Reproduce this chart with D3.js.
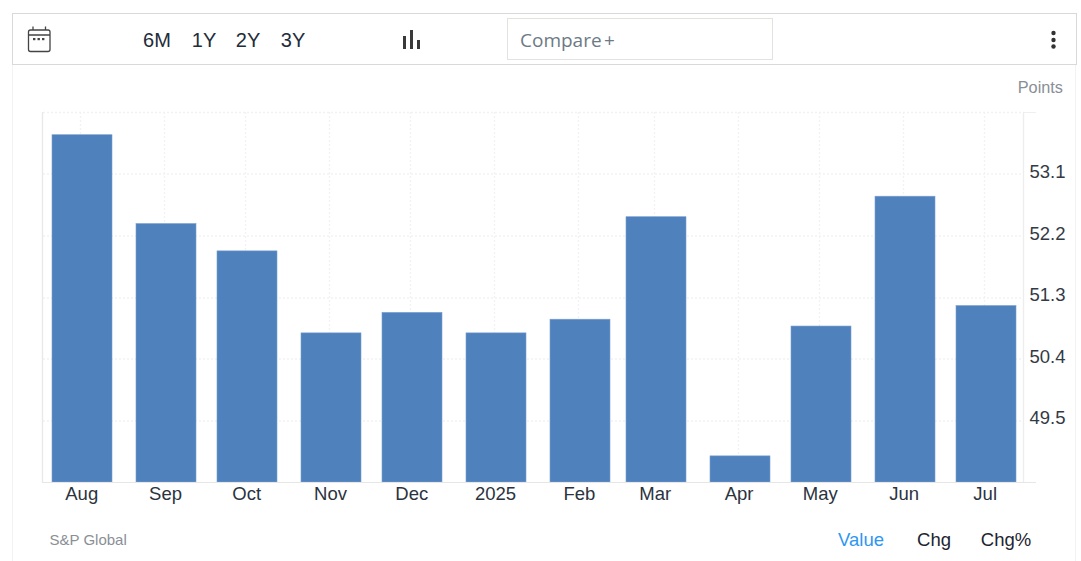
<!DOCTYPE html>
<html><head><meta charset="utf-8">
<script src="https://cdn.jsdelivr.net/npm/d3@7/dist/d3.min.js"></script>
<style>
html,body{margin:0;padding:0;background:#fff;overflow:hidden}
svg{display:block}
text{font-family:"Liberation Sans",Arial,sans-serif}
</style></head><body><svg id="c" width="1081" height="561"></svg>
<script>
const months=["2024-08-01","2024-09-01","2024-10-01","2024-11-01","2024-12-01","2025-01-01","2025-02-01","2025-03-01","2025-04-01","2025-05-01","2025-06-01","2025-07-01"];
const monthLabels=["Aug","Sep","Oct","Nov","Dec","2025","Feb","Mar","Apr","May","Jun","Jul"];
const values=[53.7,52.4,52.0,50.8,51.1,50.8,51.0,52.5,49.0,50.9,52.8,51.2];
const yTicks=[49.5,50.4,51.3,52.2,53.1];
const ranges=["6M","1Y","2Y","3Y"];
const rangeX=[157,204,248,293];
const modes=["Value","Chg","Chg%"];
const modeX=[861,934,1006];

const svg=d3.select("#c");
const dates=months.map(d=>new Date(d+"T00:00:00Z"));
const x=d3.scaleUtc().domain([dates[0],dates[11]]).range([82.2,985.7]);
const y=d3.scaleLinear().domain([48.6,54]).range([482.5,113.5]);
const barW=60;

// outer panel
svg.append("path").attr("d","M12.5,64V561M1075.5,64V561").attr("stroke","#f3f3f3").attr("fill","none");
// toolbar
svg.append("rect").attr("x",12.5).attr("y",13.5).attr("width",1064).attr("height",51).attr("fill","#fff").attr("stroke","#d9d9d9");
// calendar icon
const cal=svg.append("g").attr("fill","none").attr("stroke","#444").attr("stroke-width",1.3);
cal.append("rect").attr("x",28.5).attr("y",30).attr("width",21.5).attr("height",21.5).attr("rx",2);
cal.append("path").attr("d","M28.5,35H50M33,26.5V30M45.5,26.5V30");
svg.append("g").attr("fill","#444").selectAll("rect").data([33,37.5,42]).join("rect")
  .attr("x",d=>d).attr("y",38).attr("width",2.4).attr("height",2.2);
// range buttons
svg.append("g").selectAll("text").data(ranges).join("text")
  .attr("x",(d,i)=>rangeX[i]).attr("y",47).attr("text-anchor","middle")
  .attr("font-size",20).attr("fill","#222c3a").text(d=>d);
// bar-chart icon
svg.append("g").attr("fill","#3a3a3a").selectAll("rect").data([[403,36,3,13],[410,30,3,19],[417,40,3,9]]).join("rect")
  .attr("x",d=>d[0]).attr("y",d=>d[1]).attr("width",d=>d[2]).attr("height",d=>d[3]);
// compare
svg.append("rect").attr("x",507.5).attr("y",18.5).attr("width",265).attr("height",41).attr("fill","#fff").attr("stroke","#e2e2de");
svg.append("text").attr("x",520).attr("y",47).attr("font-size",19).attr("word-spacing",-2.5).attr("fill","#6c7a86")
  .style("font-family","'Open Sans',sans-serif").text("Compare +");
// kebab
svg.append("g").attr("fill","#333").selectAll("circle").data([33,40,46.5]).join("circle")
  .attr("cx",1053.5).attr("cy",d=>d).attr("r",2.2);

svg.append("text").attr("x",1063).attr("y",93).attr("text-anchor","end").attr("font-size",16.3).attr("fill","#8a8f96").text("Points");

// grid
const grid=svg.append("g").attr("stroke","#f2f2f2").attr("stroke-width",1.4).attr("stroke-dasharray","2,2").attr("fill","none");
grid.selectAll("line.v").data(dates).join("line").attr("class","v")
  .attr("x1",d=>Math.round(x(d))-1.5).attr("x2",d=>Math.round(x(d))-1.5).attr("y1",112).attr("y2",482);
grid.selectAll("line.h").data(yTicks).join("line").attr("class","h")
  .attr("x1",43).attr("x2",1024).attr("y1",d=>Math.round(y(d)-.5)).attr("y2",d=>Math.round(y(d)-.5));
grid.append("line").attr("x1",43).attr("x2",1024).attr("y1",y(54)-1).attr("y2",y(54)-1);

// frame
svg.append("path").attr("d","M42.5,112V482.5").attr("stroke","#e8e8e8").attr("stroke-width",1.4).attr("fill","none");
svg.append("path").attr("d","M1024,112.5H1036").attr("stroke","#efefef").attr("fill","none");

// bars
svg.append("g").selectAll("rect").data(values).join("rect")
  .attr("x",(d,i)=>Math.round(x(dates[i]))-barW/2).attr("width",barW)
  .attr("y",d=>y(d)+.7).attr("height",d=>482-y(d)-.7)
  .attr("fill","#4f81bd").attr("stroke","#7ba0cf").attr("stroke-width",.6);

// right axis
const ya=svg.append("g").attr("transform","translate(1023.5,-3)")
  .call(d3.axisRight(y).tickValues(yTicks).tickFormat(d3.format(".1f")).tickSize(0).tickPadding(6));
ya.select(".domain").attr("stroke","#ededed").attr("stroke-width",1.4).attr("d","M0,115V485");
ya.selectAll("text").attr("font-size",18.5).attr("fill","#333a45").style("font-family","'Liberation Sans',Arial,sans-serif");

// bottom axis
const xa=svg.append("g").attr("transform","translate(-1,483.5)")
  .call(d3.axisBottom(x).tickValues(dates).tickFormat((d,i)=>monthLabels[i]).tickSize(0).tickPadding(3));
xa.select(".domain").attr("stroke","#e6e6e6").attr("d","M43,-1H1037");
xa.selectAll("text").attr("font-size",18.5).attr("fill","#2b3340").style("font-family","'Liberation Sans',Arial,sans-serif");

svg.append("text").attr("x",49.5).attr("y",545).attr("font-size",15).attr("fill","#8a8f96").text("S&P Global");
svg.append("g").selectAll("text").data(modes).join("text")
  .attr("x",(d,i)=>modeX[i]).attr("y",546).attr("text-anchor","middle").attr("font-size",18.5)
  .attr("fill",(d,i)=>i==0?"#2f96f3":"#1c2530").text(d=>d);
</script></body></html>
